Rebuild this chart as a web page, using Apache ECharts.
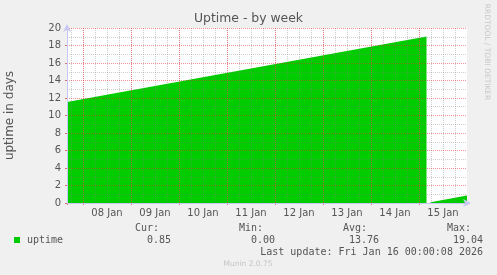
<!DOCTYPE html>
<html>
<head>
<meta charset="utf-8">
<script src="https://cdn.jsdelivr.net/npm/echarts@6/dist/echarts.min.js"></script>
<style>
html,body{margin:0;padding:0;background:#f0f0f0;}
#c{width:497px;height:275px;}
</style>
</head>
<body>
<div id="c"></div>
<script>
// ---- data ----
const seriesTimes  = ['2026-01-07 16:00', '2026-01-15 03:45', '2026-01-15 04:00', '2026-01-15 05:45', '2026-01-16 00:00'];
const seriesValues = [11.55, 19.04, null, 0.10, 0.85];
const labelTimes   = ['2026-01-08 12:00','2026-01-09 12:00','2026-01-10 12:00','2026-01-11 12:00',
                      '2026-01-12 12:00','2026-01-13 12:00','2026-01-14 12:00','2026-01-15 12:00'];
const xTickLabels  = ['08 Jan','09 Jan','10 Jan','11 Jan','12 Jan','13 Jan','14 Jan','15 Jan'];
const rangeTimes   = ['2026-01-07 16:00', '2026-01-16 00:00'];
const statNames    = ['Cur:', 'Min:', 'Avg:', 'Max:'];
const statValues   = ['0.85', '0.00', '13.76', '19.04'];
const seriesName   = 'uptime';
const titleText    = 'Uptime - by week';
const yName        = 'uptime in days';
const lastUpdate   = 'Last update: Fri Jan 16 00:00:08 2026';
const footer       = 'Munin 2.0.75';
const sideText     = 'RRDTOOL / TOBI OETIKER';

// hours since 2026-01-07 00:00
function hrs(s){
  const m = s.match(/(\d+)-(\d+)-(\d+) (\d+):(\d+)/);
  const t = Date.UTC(+m[1], +m[2]-1, +m[3], +m[4], +m[5]);
  return (t - Date.UTC(2026,0,7)) / 3600000;
}
const data = seriesTimes.map((t,i)=>[hrs(t), seriesValues[i]]);
const labelHours = labelTimes.map(hrs);
const xMin = hrs(rangeTimes[0]), xMax = hrs(rangeTimes[1]);
const span = xMax - xMin; // helper axes count hours back from the (midnight) right edge

const GREEN = '#00cc00';
const MAJ = 'rgba(225,45,45,0.5)';
const MAJV = 'rgba(235,70,70,0.6)';
const MIN = 'rgba(130,130,130,0.4)';
const AXIS = '#c8c8f4';
const TXT = '#555555';
const mono = '"DejaVu Sans Mono", monospace';
const sans = '"DejaVu Sans", sans-serif';

const chart = echarts.init(document.getElementById('c'), null, {renderer:'canvas'});

const graphics = [];
graphics.push({type:'rect', shape:{x:14,y:237,width:6,height:6}, style:{fill:GREEN}});
graphics.push({type:'text', x:27, y:240, style:{text:seriesName, font:'10px '+mono, fill:TXT, verticalAlign:'middle'}});
statNames.forEach((n,i)=>{
  graphics.push({type:'text', x:159+104*i, y:228, style:{text:n, font:'10px '+mono, fill:TXT, align:'right', verticalAlign:'middle'}});
  graphics.push({type:'text', x:171+104*i, y:240, style:{text:statValues[i], font:'10px '+mono, fill:TXT, align:'right', verticalAlign:'middle'}});
});
graphics.push({type:'text', x:483, y:252, style:{text:lastUpdate, font:'10px '+mono, fill:TXT, align:'right', verticalAlign:'middle'}});
graphics.push({type:'text', x:248, y:264, style:{text:footer, font:'7.5px '+sans, fill:'#c4c4c4', align:'center', verticalAlign:'middle'}});
graphics.push({type:'text', x:487, y:52, rotation:-Math.PI/2, style:{text:sideText, font:'7.5px '+sans, fill:'#c8c8c8', align:'center', verticalAlign:'middle'}});

function helperX(interval, color, tick, z){
  return {
    type:'value', min:0, max:span, inverse:true, interval:interval, z:z, position:'bottom', offset:0,
    axisLine:{show:false, onZero:false}, axisLabel:{show:false},
    axisTick:{show:tick, length:2, lineStyle:{color:'#e07070'}},
    splitLine:{show:true, showMinLine:false, showMaxLine:false, lineStyle:{color:color, type:[1,1], width:1}}
  };
}

chart.setOption({
  backgroundColor:'#f0f0f0',
  animation:false,
  title:{text:titleText, left:'center', top:13, padding:0,
    textStyle:{fontFamily:sans, fontSize:12.4, fontWeight:'normal', color:TXT}},
  grid:{left:67, right:30, top:28, bottom:72, containLabel:false, outerBoundsMode:'none',
    show:true, backgroundColor:'#ffffff', borderWidth:0},
  xAxis:[{
    type:'value', min:xMin, max:xMax, z:6, position:'bottom',
    axisLine:{show:true, onZero:false, lineStyle:{color:AXIS, width:1}, symbol:['none','arrow'], symbolSize:[6,8], symbolOffset:[0,4]},
    axisTick:{show:false},
    axisLabel:{customValues:labelHours, margin:5, fontFamily:sans, fontSize:10, color:TXT,
      formatter:(v)=>{const i=labelHours.indexOf(v); return i>=0?xTickLabels[i]:'';}},
    splitLine:{show:false}
  },
  helperX(6, MIN, false, 4),
  helperX(24, MAJV, true, 5)
  ],
  yAxis:{
    type:'value', min:0, max:20, interval:2, z:6, position:'left',
    name:yName, nameLocation:'middle', nameGap:51, nameRotate:90,
    nameTextStyle:{fontFamily:sans, fontSize:12, color:TXT},
    axisLine:{show:true, onZero:false, lineStyle:{color:AXIS, width:1}, symbol:['none','arrow'], symbolSize:[6,8], symbolOffset:[0,4]},
    axisTick:{show:true, length:2, lineStyle:{color:'#e07070'}},
    axisLabel:{margin:6, fontFamily:sans, fontSize:10, color:TXT},
    splitLine:{show:true, showMinLine:false, showMaxLine:true, lineStyle:{color:MAJ, type:[1,1], width:1}},
    minorTick:{show:false, splitNumber:2},
    minorSplitLine:{show:true, lineStyle:{color:MIN, type:[1,1], width:1}}
  },
  series:[{
    name:seriesName, type:'line', data:data, z:2, xAxisIndex:0, yAxisIndex:0,
    showSymbol:false, connectNulls:false,
    lineStyle:{width:0, color:GREEN},
    areaStyle:{color:GREEN, opacity:1},
    itemStyle:{color:GREEN}
  }],
  graphic:graphics
});
</script>
</body>
</html>
